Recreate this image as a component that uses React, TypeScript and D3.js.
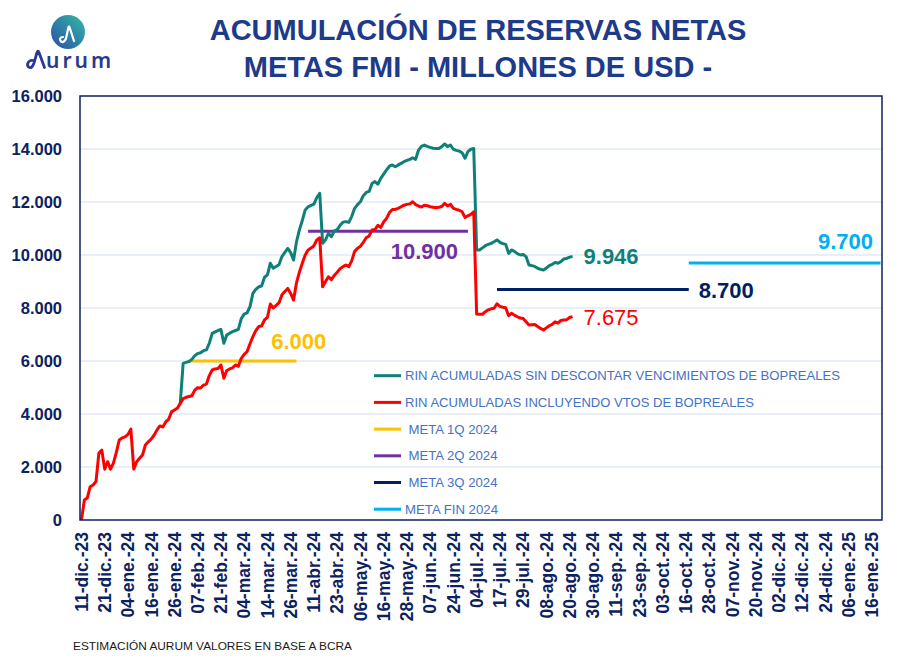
import React from "react";
import * as d3 from "d3";

// ---------- DATA ----------
const TICK_LABELS = [
  "11-dic.-23", "21-dic.-23", "04-ene.-24", "16-ene.-24", "26-ene.-24", "07-feb.-24",
  "21-feb.-24", "04-mar.-24", "14-mar.-24", "26-mar.-24", "11-abr.-24", "23-abr.-24",
  "06-may.-24", "16-may.-24", "28-may.-24", "07-jun.-24", "24-jun.-24", "04-jul.-24",
  "17-jul.-24", "29-jul.-24", "08-ago.-24", "20-ago.-24", "30-ago.-24", "11-sep.-24",
  "23-sep.-24", "03-oct.-24", "16-oct.-24", "28-oct.-24", "07-nov.-24", "20-nov.-24",
  "02-dic.-24", "12-dic.-24", "24-dic.-24", "06-ene.-25", "16-ene.-25",
];
const TICK_EVERY = 8; // business days between tick labels
const N_CATEGORIES = 276; // business days on the axis

const Y_TICKS = [0, 2000, 4000, 6000, 8000, 10000, 12000, 14000, 16000];

// RIN acumuladas incluyendo vtos de BOPREALES (daily, from 11-dic-23)
const RIN_CON_BOPREAL = [
  0, 755, 830, 1257, 1320, 1450, 2530, 2640, 1920, 2200,
  1920, 2150, 2550, 3020, 3100, 3140, 3230, 3430, 1920, 2200,
  2330, 2450, 2830, 2950, 3050, 3200, 3400, 3550, 3510, 3700,
  3800, 4080, 4150, 4220, 4400, 4580, 4630, 4660, 4690, 4900,
  4990, 4980, 5090, 5130, 5450, 5660, 5700, 5720, 5850, 5350,
  5640, 5700, 5740, 5850, 5800, 6100, 6250, 6350, 6650, 6920,
  7150, 7300, 7320, 7550, 7650, 8150, 8000, 8100, 8200, 8500,
  8620, 8740, 8550, 8300, 8950, 9350, 9690, 10000, 10190, 10260,
  10350, 10570, 10650, 8800, 9000, 9180, 9070, 9230, 9350, 9480,
  9560, 9620, 9560, 9780, 10130, 10250, 10330, 10480, 10650, 10720,
  10940, 10960, 11120, 11040, 11250, 11380, 11600, 11720, 11720, 11760,
  11820, 11880, 11910, 11930, 12010, 11900, 11850, 11810, 11880, 11860,
  11820, 11800, 11780, 11800, 11830, 11950, 11850, 11910, 11760, 11720,
  11690, 11630, 11420, 11480, 11530, 11630, 7770, 7760, 7760, 7860,
  7930, 7970, 7990, 8160, 8060, 8030, 8010, 7710, 7800, 7730,
  7670, 7620, 7600, 7480, 7360, 7370, 7380, 7300, 7230, 7170,
  7250, 7330, 7380, 7480, 7430, 7530, 7550, 7560, 7640, 7675,
];

// RIN acumuladas sin descontar vencimientos de BOPREALES
const N = null;
const RIN_SIN_BOPREAL: (number | null)[] = [
  N, N, N, N, N, N, N, N, N, N,
  N, N, N, N, N, N, N, N, N, N,
  N, N, N, N, N, N, N, N, N, N,
  N, N, N, N, 4400, 5910, 5950, 5980, 6060, 6200,
  6280, 6310, 6390, 6420, 6670, 7040, 7100, 7150, 7190, 6670,
  6980, 7050, 7110, 7150, 7190, 7600, 7770, 7820, 8050, 8550,
  8700, 8800, 8830, 9160, 9250, 9690, 9500, 9570, 9640, 9940,
  10100, 10250, 10090, 9810, 10500, 10950, 11300, 11700, 11820, 11870,
  11920, 12170, 12330, 10440, 10570, 10820, 10690, 10900, 10960, 11120,
  11240, 11260, 11230, 11450, 11760, 11900, 12010, 12240, 12360, 12400,
  12700, 12770, 12670, 12890, 13050, 13210, 13350, 13400, 13330, 13400,
  13460, 13520, 13570, 13610, 13670, 13610, 13960, 14100, 14150, 14100,
  14060, 14030, 14020, 14020, 14090, 14190, 14090, 14150, 13990, 13950,
  13920, 13860, 13650, 13900, 13990, 14020, 10190, 10190, 10270, 10350,
  10400, 10440, 10500, 10570, 10480, 10430, 10400, 10060, 10190, 10140,
  10050, 10000, 10020, 9940, 9620, 9600, 9570, 9500, 9460, 9430,
  9510, 9600, 9650, 9720, 9690, 9750, 9850, 9870, 9920, 9946,
];

// Metas FMI
const META_NAMES = ["META 1Q 2024", "META 2Q 2024", "META 3Q 2024", "META FIN 2024"];
const META_VALUES = [6000, 10900, 8700, 9700];
const META_START = [37, 78, 143, 209];
const META_END = [74, 133, 209, 275];
const META_COLORS = ["#FFC000", "#7030A0", "#002060", "#00B0F0"];

const SERIES_NAMES = [
  "RIN ACUMULADAS SIN DESCONTAR VENCIMIENTOS DE BOPREALES",
  "RIN ACUMULADAS INCLUYENDO VTOS DE BOPREALES",
];
const SERIES_COLORS = ["#0F8077", "#FF0000"];

const fmt = (v: number) => d3.format(",.0f")(v).replace(/,/g, ".");

// ---------- CHART ----------
export default function App() {
  const W = 911, H = 662;
  const left = 80, right = 882, top = 96, bottom = 520;

  const x = d3.scaleBand<number>().domain(d3.range(N_CATEGORIES)).range([left, right]);
  const xc = (i: number) => (x(i) as number) + x.bandwidth() / 2;
  const y = d3.scaleLinear().domain([0, 16000]).range([bottom, top]);

  const line = d3
    .line<number | null>()
    .defined((d) => d != null)
    .x((_, i) => xc(i))
    .y((d) => y(d as number));

  const navy = "#0B2260";
  const font = "'Liberation Sans', Arial, sans-serif";
  const lastIdx = RIN_CON_BOPREAL.length - 1;

  const legendItems = [
    { name: SERIES_NAMES[0], color: SERIES_COLORS[0], dx: 0, tl: 435 },
    { name: SERIES_NAMES[1], color: SERIES_COLORS[1], dx: 0, tl: 349 },
    ...META_NAMES.map((n, k) => ({ name: n, color: META_COLORS[k], dx: k === 3 ? 0 : 3.5, tl: k === 3 ? 93 : 89 })),
  ];

  return (
    <svg width={W} height={H} style={{ display: "block", position: "absolute", left: 0, top: 0, background: "#fff" }} fontFamily={font}>
      <defs>
        <linearGradient id="logoGrad" x1="1" y1="0" x2="0" y2="1">
          <stop offset="0" stopColor="#35B9A5" />
          <stop offset="1" stopColor="#2A4FA8" />
        </linearGradient>
      </defs>

      {/* Logo */}
      <g>
        <circle cx={68} cy={32} r={17} fill="url(#logoGrad)" />
        <path d="M63 37 C60 37 59 40 61 41.5 C63 43 65 41 66 38.5 L68.5 27 Q69 25.5 69.5 27 L74 41"
          fill="none" stroke="#fff" strokeWidth={2.2} strokeLinecap="round" strokeLinejoin="round" />
        <path d="M33 60.5 C29 59.5 26 64 28.5 67 C31 69 33 66 34 63 L37 52.5 Q38 50 39 52.5 L44.5 67.5"
          fill="none" stroke="#2B3990" strokeWidth={2.8} strokeLinecap="round" strokeLinejoin="round" />
        <text x={46} y={68} fontSize={21} fontWeight={600} fill="#2B3990" letterSpacing={3} fontFamily="'Noto Sans', sans-serif">urum</text>
      </g>

      {/* Title */}
      <text x={478} y={40} textAnchor="middle" fontSize={29} fontWeight="bold" fill="#1E3A8A">
        ACUMULACIÓN DE RESERVAS NETAS
      </text>
      <text x={478} y={77} textAnchor="middle" fontSize={29} fontWeight="bold" fill="#1E3A8A">
        METAS FMI - MILLONES DE USD -
      </text>

      {/* Gridlines */}
      {Y_TICKS.filter((t) => t > 0 && t < 16000).map((t) => (
        <line key={t} x1={left} x2={right} y1={y(t)} y2={y(t)} stroke="#D3DEF2" strokeWidth={1} />
      ))}

      {/* Y labels */}
      {Y_TICKS.map((t) => (
        <text key={t} x={62} y={y(t)} dy="0.36em" textAnchor="end" fontSize={16.5} fontWeight="bold" fill={navy}>
          {fmt(t)}
        </text>
      ))}

      {/* X labels */}
      {TICK_LABELS.map((lab, k) => {
        const cx = xc(k * TICK_EVERY);
        return (
          <text key={lab} transform={`translate(${cx},532) rotate(-90)`} dy="0.36em" textAnchor="end"
            fontSize={17.5} fontWeight="bold" fill={navy}>
            {lab}
          </text>
        );
      })}

      {/* Meta lines */}
      {META_VALUES.map((v, k) => (
        <line key={k} x1={xc(META_START[k])} x2={xc(META_END[k])} y1={y(v)} y2={y(v)}
          stroke={META_COLORS[k]} strokeWidth={3} />
      ))}

      {/* Series */}
      <path d={line(RIN_SIN_BOPREAL) || ""} fill="none" stroke={SERIES_COLORS[0]} strokeWidth={3} strokeLinejoin="round" />
      <path d={line(RIN_CON_BOPREAL) || ""} fill="none" stroke={SERIES_COLORS[1]} strokeWidth={3} strokeLinejoin="round" />

      {/* Plot border */}
      <rect x={left} y={top} width={right - left} height={bottom - top} fill="none" stroke={navy} strokeWidth={1.5} />

      {/* Value labels */}
      <text x={(xc(META_START[0]) + xc(META_END[0])) / 2 + 56} y={y(META_VALUES[0]) - 12} textAnchor="middle"
        fontSize={22} fontWeight="bold" fill={META_COLORS[0]}>{fmt(META_VALUES[0])}</text>
      <text x={xc(118)} y={y(META_VALUES[1]) + 28} textAnchor="middle"
        fontSize={22} fontWeight="bold" fill={META_COLORS[1]}>{fmt(META_VALUES[1])}</text>
      <text x={xc(META_END[2]) + 10} y={y(META_VALUES[2]) + 9}
        fontSize={22} fontWeight="bold" fill={META_COLORS[2]}>{fmt(META_VALUES[2])}</text>
      <text x={873} y={y(META_VALUES[3]) - 14} textAnchor="end"
        fontSize={22} fontWeight="bold" fill={META_COLORS[3]}>{fmt(META_VALUES[3])}</text>
      <text x={xc(lastIdx) + 11} y={y(RIN_SIN_BOPREAL[lastIdx] as number) + 8}
        fontSize={22} fontWeight="bold" fill={SERIES_COLORS[0]}>{d3.format(".3f")((RIN_SIN_BOPREAL[lastIdx] as number) / 1000)}</text>
      <text x={xc(lastIdx) + 11} y={y(RIN_CON_BOPREAL[lastIdx]) + 8}
        fontSize={22} fill={SERIES_COLORS[1]}>{d3.format(".3f")(RIN_CON_BOPREAL[lastIdx] / 1000)}</text>

      {/* Legend */}
      {legendItems.map((it, k) => {
        const ly = 375.7 + k * 26.7;
        return (
          <g key={k}>
            <line x1={374} x2={401} y1={ly} y2={ly} stroke={it.color} strokeWidth={3} />
            <text x={405 + it.dx} y={ly} dy="0.36em" fontSize={13} fill="#4472C4"
              textLength={it.tl} lengthAdjust="spacingAndGlyphs">{it.name}</text>
          </g>
        );
      })}

      {/* Source */}
      <text x={73} y={650} fontSize={11.5} fill="#1a1a1a" textLength={279} lengthAdjust="spacingAndGlyphs">
        ESTIMACIÓN AURUM VALORES EN BASE A BCRA
      </text>
    </svg>
  );
}
